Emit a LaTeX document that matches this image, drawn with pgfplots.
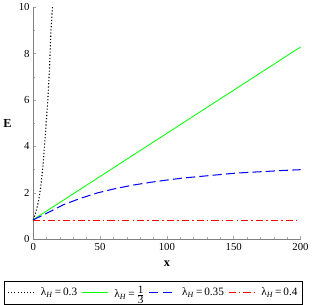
\documentclass[border=0pt]{standalone}
\usepackage{pgfplots}
\pgfplotsset{compat=1.18}
\usepackage{fontspec}
\setmainfont{Liberation Serif}
\begin{document}
\begin{tikzpicture}
\begin{axis}[
  scale only axis,
  width=260bp, height=226bp,
  xmin=0, xmax=200, ymin=0, ymax=10,
  axis x line=bottom, axis y line=left,
  axis line style={gray, line width=1.3pt, -},
  xtick={0,50,100,150,200},
  ytick={0,2,4,6,8,10},
  minor x tick num=4, minor y tick num=1,
  tick align=inside,
  major tick length=3pt, minor tick length=2pt,
  tick style={gray!70, line width=0.4pt},
  every tick label/.append style={font=\fontsize{10.5}{12}\selectfont},
  /pgf/number format/assume math mode=true,
  xlabel={\textbf{x}}, ylabel={\textbf{E}},
  every axis x label/.style={at={(axis description cs:0.5,0)}, anchor=north, yshift=-17bp, font=\fontsize{12}{13}\selectfont},
  every axis y label/.style={at={(axis description cs:0,0.5)}, anchor=center, xshift=-25bp, font=\fontsize{12}{13}\selectfont},
  clip=false,
  legend columns=4,
  legend style={at={(axis description cs:0.45,0)}, anchor=north, yshift=-40bp,
    draw=black, line width=0.8pt, font=\fontsize{11}{12}\selectfont,
    /tikz/every even column/.append style={column sep=2pt},
    /tikz/every odd column/.append style={column sep=4pt},
    inner sep=3pt},
  legend image code/.code={\draw[mark repeat=2,mark phase=2] plot coordinates {(0cm,0cm) (0.45cm,0cm) (0.9cm,0cm)};},
]
\addplot[black, line width=1.1pt, dotted] coordinates {
(0,0.85) (1,1.0) (2,1.2) (3,1.4) (4,1.65) (5.5,2.2) (7.2,3.1) (9.2,4.6) (11,6.06) (12.3,7.5) (13.3,9.0) (14.4,10)};
\addlegendentry{λ\textsubscript{\textit{H}}\,=\,0.3}
\addplot[green, line width=0.8pt] coordinates {(0,0.85) (200,8.28)};
\addlegendentry{λ\textsubscript{\textit{H}}\,=\,$\frac{\mbox{1}}{\mbox{3}}$}
\addplot[blue, line width=1pt, dash pattern=on 9pt off 4pt] coordinates {
(0,0.84) (5,0.98) (10,1.12) (22.5,1.49) (35,1.76) (48,2.0) (61,2.18) (74,2.33) (87,2.45) (99.5,2.55) (112,2.64) (125,2.71) (138,2.78) (151,2.85) (163,2.89) (176,2.93) (188,2.97) (200,3.0)};
\addlegendentry{λ\textsubscript{\textit{H}}\,=\,0.35}
\addplot[red, line width=0.8pt, dash pattern=on 7pt off 3pt on 1.5pt off 3pt] coordinates {(0,0.83) (200,0.83)};
\addlegendentry{λ\textsubscript{\textit{H}}\,=\,0.4}
\end{axis}
\end{tikzpicture}
\end{document}
